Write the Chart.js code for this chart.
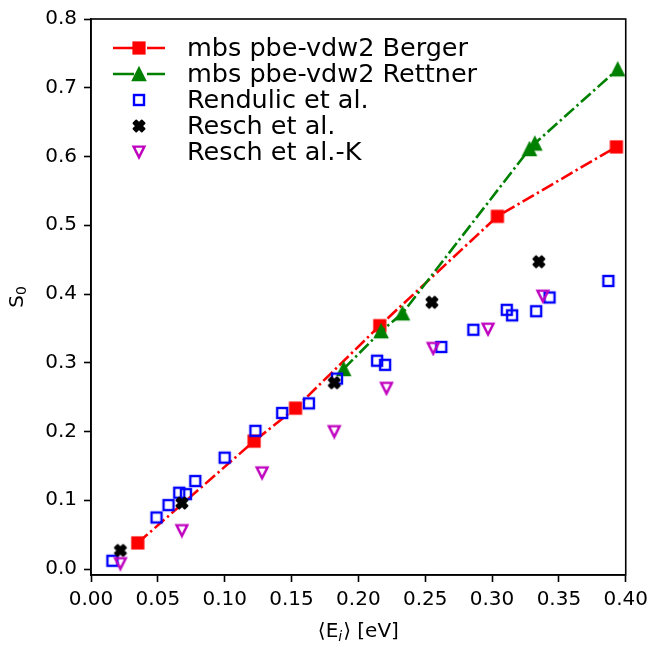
<!DOCTYPE html>
<html>
<head>
<meta charset="utf-8">
<script src="https://cdn.jsdelivr.net/npm/chart.js@4/dist/chart.umd.min.js"></script>
<style>
  html, body { margin: 0; padding: 0; background: #fff; }
  #sticking { display: block; }
</style>
</head>
<body>
<canvas id="sticking" width="654" height="645"></canvas>
<script>
// sticking coefficient vs mean incidence energy
var xTicks = [0, 0.05, 0.10, 0.15, 0.20, 0.25, 0.30, 0.35, 0.40];
var yTicks = [0, 0.1, 0.2, 0.3, 0.4, 0.5, 0.6, 0.7, 0.8];

var bergerE = [0.035, 0.122, 0.153, 0.216, 0.304, 0.393];
var bergerS = [0.038, 0.186, 0.234, 0.354, 0.513, 0.614];

var rettnerE = [0.189, 0.217, 0.233, 0.328, 0.332, 0.394];
var rettnerS = [0.291, 0.346, 0.372, 0.611, 0.619, 0.727];

var rendulicE = [0.016, 0.049, 0.058, 0.066, 0.071, 0.078, 0.100, 0.123, 0.143, 0.163,
                 0.184, 0.214, 0.220, 0.262, 0.286, 0.311, 0.315, 0.333, 0.343, 0.387];
var rendulicS = [0.012, 0.075, 0.093, 0.111, 0.109, 0.128, 0.162, 0.201, 0.227, 0.241,
                 0.277, 0.303, 0.297, 0.323, 0.348, 0.377, 0.369, 0.375, 0.395, 0.419];

var reschE = [0.022, 0.068, 0.182, 0.255, 0.335];
var reschS = [0.027, 0.096, 0.271, 0.388, 0.447];

var reschKE = [0.022, 0.068, 0.128, 0.182, 0.221, 0.256, 0.297, 0.338];
var reschKS = [0.008, 0.056, 0.140, 0.200, 0.263, 0.321, 0.349, 0.397];

var labels = ['mbs pbe-vdw2 Berger', 'mbs pbe-vdw2 Rettner', 'Rendulic et al.', 'Resch et al.', 'Resch et al.-K'];

function pairs(xs, ys) {
  return xs.map(function (x, i) { return { x: x, y: ys[i] }; });
}

// marker sprites
function sprite(size, draw) {
  var c = document.createElement('canvas');
  c.width = size; c.height = size;
  var g = c.getContext('2d');
  g.translate(size / 2, size / 2);
  draw(g);
  return c;
}

var redSquare = sprite(16, function (g) {
  g.fillStyle = '#ff0000';
  g.fillRect(-6.6, -6.6, 13.2, 13.2);
});

var greenTriangle = sprite(18, function (g) {
  g.beginPath();
  g.moveTo(0, -6.5); g.lineTo(6.5, 6.5); g.lineTo(-6.5, 6.5); g.closePath();
  g.fillStyle = '#008000'; g.fill();
  g.lineWidth = 1.6; g.strokeStyle = '#008000'; g.lineJoin = 'miter'; g.stroke();
});

var blueSquare = sprite(16, function (g) {
  g.lineWidth = 2.4; g.strokeStyle = '#0000ff';
  g.strokeRect(-5, -5, 10, 10);
});

var blackX = sprite(18, function (g) {
  var s = 11;
  var v = [[-0.25, -0.5], [0, -0.25], [0.25, -0.5], [0.5, -0.25], [0.25, 0], [0.5, 0.25],
           [0.25, 0.5], [0, 0.25], [-0.25, 0.5], [-0.5, 0.25], [-0.25, 0], [-0.5, -0.25]];
  g.beginPath();
  v.forEach(function (p, i) {
    if (i === 0) g.moveTo(p[0] * s, p[1] * s); else g.lineTo(p[0] * s, p[1] * s);
  });
  g.closePath();
  g.fillStyle = '#000'; g.fill();
  g.lineWidth = 1.9; g.strokeStyle = '#000'; g.lineJoin = 'round'; g.stroke();
});

var magentaTriangle = sprite(16, function (g) {
  g.beginPath();
  g.moveTo(0, 5.4); g.lineTo(-5.4, -5.4); g.lineTo(5.4, -5.4); g.closePath();
  g.lineWidth = 2.4; g.strokeStyle = '#bf00bf'; g.lineJoin = 'miter'; g.stroke();
});

var markers = [redSquare, greenTriangle, blueSquare, blackX, magentaTriangle];
var colors = ['#ff0000', '#008000', '#0000ff', '#000000', '#bf00bf'];
var dashDot = [13, 3.5, 2.4, 3.5];
var FONT = 'DejaVu Sans';

// frame, legend and axis titles
var decorations = {
  id: 'decorations',
  afterDraw: function (chart) {
    var ctx = chart.ctx, a = chart.chartArea;
    ctx.save();
    ctx.strokeStyle = '#000';
    ctx.lineWidth = 1.6;
    ctx.strokeRect(a.left, a.top, a.right - a.left, a.bottom - a.top);

    // legend
    ctx.textBaseline = 'middle';
    ctx.textAlign = 'left';
    ctx.font = '25.5px "' + FONT + '"';
    for (var i = 0; i < labels.length; i++) {
      var y = 48 + i * 26;
      if (i < 2) {
        ctx.strokeStyle = colors[i];
        ctx.lineWidth = 2.6;
        ctx.beginPath();
        ctx.moveTo(113, y); ctx.lineTo(134, y);
        ctx.moveTo(147, y); ctx.lineTo(165, y);
        ctx.stroke();
      }
      var m = markers[i];
      ctx.drawImage(m, 139 - m.width / 2, y - m.height / 2);
      ctx.fillStyle = '#000';
      ctx.fillText(labels[i], 187, y + 1);
    }

    // x title: <E_i> [eV]
    ctx.fillStyle = '#000';
    ctx.textBaseline = 'alphabetic';
    var big = '20px "' + FONT + '"';
    var sub = 'italic 14px "' + FONT + '"';
    var p1 = '\u27E8E', p2 = 'i', p3 = '\u27E9 [eV]';
    ctx.font = big; var w1 = ctx.measureText(p1).width, w3 = ctx.measureText(p3).width;
    ctx.font = sub; var w2 = ctx.measureText(p2).width + 1;
    var cx = (a.left + a.right) / 2, x0 = cx - (w1 + w2 + w3) / 2, base = 637;
    ctx.font = big; ctx.fillText(p1, x0, base);
    ctx.font = sub; ctx.fillText(p2, x0 + w1, base + 4);
    ctx.font = big; ctx.fillText(p3, x0 + w1 + w2, base);

    // y title: S_0
    ctx.translate(23, (a.top + a.bottom) / 2);
    ctx.rotate(-Math.PI / 2);
    ctx.font = big; var ws = ctx.measureText('S').width;
    ctx.font = '14px "' + FONT + '"'; var w0 = ctx.measureText('0').width;
    var sx = -(ws + w0) / 2;
    ctx.font = big; ctx.fillText('S', sx, 0);
    ctx.font = '14px "' + FONT + '"'; ctx.fillText('0', sx + ws, 3);
    ctx.restore();
  }
};

var tickFont = { family: FONT, size: 20 };

var config = {
  type: 'scatter',
  data: {
    datasets: [
      {
        label: labels[0],
        data: pairs(bergerE, bergerS),
        showLine: true,
        borderColor: colors[0],
        borderWidth: 2.6,
        borderDash: dashDot,
        pointStyle: redSquare,
        pointRadius: 6,
        order: 5
      },
      {
        label: labels[1],
        data: pairs(rettnerE, rettnerS),
        showLine: true,
        borderColor: colors[1],
        borderWidth: 2.6,
        borderDash: dashDot,
        pointStyle: greenTriangle,
        pointRadius: 6,
        order: 4
      },
      {
        label: labels[2],
        data: pairs(rendulicE, rendulicS),
        pointStyle: blueSquare,
        pointRadius: 6,
        order: 3
      },
      {
        label: labels[3],
        data: pairs(reschE, reschS),
        pointStyle: blackX,
        pointRadius: 6,
        order: 2
      },
      {
        label: labels[4],
        data: pairs(reschKE, reschKS),
        pointStyle: magentaTriangle,
        pointRadius: 6,
        order: 1
      }
    ]
  },
  options: {
    responsive: false,
    animation: false,
    devicePixelRatio: 1,
    layout: { padding: { top: 14, right: 26, left: 0, bottom: 0 } },
    plugins: { legend: { display: false }, tooltip: { enabled: false } },
    scales: {
      x: {
        type: 'linear',
        min: 0,
        max: 0.4,
        afterBuildTicks: function (s) { s.ticks = xTicks.map(function (v) { return { value: v }; }); },
        afterFit: function (s) { s.height = 70; },
        ticks: {
          font: tickFont, color: '#000', padding: 6, maxRotation: 0, autoSkip: false,
          callback: function (v) { return v.toFixed(2); }
        },
        grid: { drawOnChartArea: false, tickLength: 7, tickColor: '#000', tickWidth: 1.6 },
        border: { color: '#000', width: 1.6 }
      },
      y: {
        type: 'linear',
        min: -0.0087,
        max: 0.8,
        afterBuildTicks: function (s) { s.ticks = yTicks.map(function (v) { return { value: v }; }); },
        afterFit: function (s) { s.width = 91; },
        ticks: {
          font: tickFont, color: '#000', padding: 7, autoSkip: false,
          callback: function (v) { return v.toFixed(1); }
        },
        grid: { drawOnChartArea: false, tickLength: 7, tickColor: '#000', tickWidth: 1.6 },
        border: { color: '#000', width: 1.6 }
      }
    }
  },
  plugins: [decorations]
};

var stickingChart = new Chart(document.getElementById('sticking'), config);
</script>
</body>
</html>
